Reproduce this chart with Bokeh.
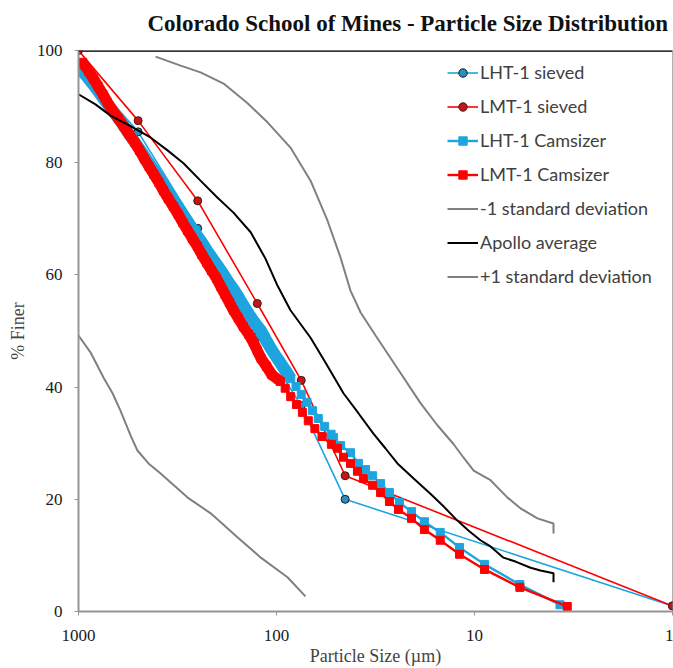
from bokeh.plotting import figure
from bokeh.models import Range1d, FixedTicker, NumeralTickFormatter, Legend, LegendItem, Span
from bokeh.embed import file_html
from bokeh.resources import INLINE

# ---------------- data ----------------
title_text = "Colorado School of Mines - Particle Size Distribution"
x_ticks = [1000, 100, 10, 1]
y_ticks = [0, 20, 40, 60, 80, 100]

sieve_size = [1000, 500, 250, 125, 75, 45, 1]
lht_sieved = [97.5, 85.5, 68.3, 49.0, 36.7, 20.0, 1.0]
lmt_sieved = [100, 87.5, 73.2, 54.9, 41.2, 24.2, 1.0]

lht_cam_size = [1000, 925, 860, 802, 748, 697, 651, 608, 570, 535,
                502, 471, 442, 415, 390, 368, 346, 325, 306, 288,
                270, 254, 238, 224, 210, 197, 185, 174, 163, 154,
                146, 137, 129, 120, 114, 108, 102, 95.8, 90.0, 84.7,
                79.7, 75.0, 70.2, 65.8, 61.5, 57.1, 53.0,
                51.5, 47.5, 42.3, 38.5, 35.5, 32.7, 29.8, 26.9, 23.9, 20.8,
                17.9, 14.9, 11.9, 8.9, 5.9, 3.7]
lht_cam_finer = [97.1, 95.7, 94.3, 92.9, 91.4, 90.0, 88.6, 87.2, 85.7, 84.3,
                 82.9, 81.5, 80.0, 78.6, 77.2, 75.8, 74.3, 72.9, 71.5, 70.1,
                 68.6, 67.2, 65.8, 64.3, 62.9, 61.5, 60.1, 58.6, 57.2, 55.8,
                 54.4, 52.9, 51.5, 50.1, 48.7, 47.2, 45.8, 44.4, 43.0, 41.5,
                 40.1, 38.7, 37.3, 35.8, 34.4, 33.0, 31.6,
                 31.0, 29.6, 28.3, 26.4, 25.3, 24.2, 22.8, 21.2, 19.4, 17.8,
                 16.0, 14.1, 11.4, 8.4, 4.8, 1.2]

lmt_cam_size = [954, 892, 841, 796, 753, 713, 673, 630, 591, 554,
                520, 492, 465, 440, 416, 393, 372, 352, 332, 314,
                297, 281, 266, 251, 238, 225, 213, 201, 191, 182,
                173, 165, 156, 147, 138, 131, 125, 119.5, 112.3, 105.6,
                95.5, 90.4, 84.8, 79.3, 74.0, 69.1, 64.0, 58.9, 52.8,
                49.2, 45.9, 42.3, 39.0, 36.4, 32.7, 29.8, 26.9, 24.2, 20.8,
                17.9, 14.9, 11.9, 8.9, 5.9, 3.4]
lmt_cam_finer = [97.9, 96.4, 95.0, 93.6, 92.2, 90.7, 89.3, 87.9, 86.5, 85.0,
                 83.6, 82.2, 80.7, 79.3, 77.9, 76.5, 75.0, 73.6, 72.2, 70.8,
                 69.3, 67.9, 66.5, 65.1, 63.6, 62.2, 60.8, 59.4, 57.9, 56.5,
                 55.1, 53.7, 52.3, 50.8, 49.4, 48.0, 46.5, 45.1, 43.7, 42.2,
                 41.0, 39.8, 38.3, 36.9, 35.5, 34.0, 32.6, 31.2, 29.8,
                 29.1, 27.5, 26.4, 25.0, 23.7, 22.5, 21.2, 19.6, 18.2, 16.6,
                 14.6, 12.7, 10.2, 7.5, 4.3, 0.9]

minus_size = [1000, 870, 748, 673, 614, 546, 504, 443, 385, 281, 215, 157, 120, 88.0, 71.4]
minus_finer = [49.2, 46.2, 41.7, 38.9, 35.8, 31.4, 28.7, 26.4, 24.6, 20.3, 17.5, 13.2, 9.6, 6.1, 2.7]

apollo_size = [1000, 821, 689, 546, 433, 355, 295, 242, 199, 165,
               135, 113.7, 98.9, 85.0, 67.3, 56.6, 45.9, 38.5, 32.4, 28.2,
               24.5, 20.3, 16.7, 14.3, 12.2, 10.7, 9.33, 8.30, 7.14, 6.21,
               5.21, 4.64, 3.99, 3.99]
apollo_finer = [92.2, 90.4, 88.4, 86.5, 84.5, 82.2, 79.9, 76.8, 73.8, 71.1,
                67.6, 62.9, 58.1, 53.7, 48.8, 44.4, 38.9, 35.3, 31.7, 29.1,
                26.4, 23.7, 21.0, 18.7, 16.2, 14.4, 12.7, 11.6, 9.6, 8.9,
                7.8, 7.3, 6.8, 5.2]

plus_size = [408, 305, 242, 185, 140, 111, 85.0, 67.3, 55.3, 47.5, 42.3, 37.6, 31.6,
             25.1, 18.7, 15.4, 12.8, 11.4, 10.1, 8.30, 6.81, 5.86, 4.81, 3.99, 3.99]
plus_finer = [98.9, 97.3, 96.1, 94.1, 90.6, 87.2, 82.7, 76.8, 69.7, 63.1, 57.2, 53.3, 49.2,
              43.9, 37.1, 33.2, 29.9, 27.5, 25.1, 23.4, 20.3, 18.4, 16.6, 15.7, 13.9]

# number of leading Camsizer points that merge into a solid band
LHT_DENSE = 40
LMT_DENSE = 41

# ---------------- styles ----------------
BLUE = "#1EA5E0"
RED = "#FF0000"
GRAY = "#808080"
SERIF = "Liberation Serif"

p = figure(width=673, height=676, x_axis_type="log",
           x_range=Range1d(1000, 1), y_range=Range1d(0, 100),
           output_backend="svg", toolbar_location=None,
           min_border_left=78, min_border_right=1, min_border_top=58, min_border_bottom=57)
p.margin = (-8, 0, 0, 0)

p.title.text = title_text
p.title.text_font = SERIF
p.title.text_font_size = "23px"
p.title.text_font_style = "bold"
p.title.text_color = "#111111"
p.title.align = "left"
p.title.offset = 69
p.title.standoff = 29

p.xgrid.visible = False
p.ygrid.visible = False
p.outline_line_color = "#b0b0b0"
p.outline_line_width = 1
p.background_fill_color = "white"
p.border_fill_color = "white"

for ax in (p.xaxis[0], p.yaxis[0]):
    ax.axis_line_color = "#959595"
    ax.axis_line_width = 2
    ax.major_tick_line_color = "#959595"
    ax.major_tick_line_width = 1
    ax.major_tick_in = 0
    ax.major_tick_out = 4
    ax.minor_tick_line_color = None
    ax.major_label_text_font = SERIF
    ax.major_label_text_font_size = "17px"
    ax.major_label_text_color = "#1a1a1a"
    ax.major_label_text_line_height = 0.8
    ax.axis_label_text_font = SERIF
    ax.axis_label_text_font_size = "18px"
    ax.axis_label_text_font_style = "normal"
    ax.axis_label_text_color = "#444444"
    ax.axis_label_text_line_height = 0.8

p.xaxis.ticker = FixedTicker(ticks=x_ticks)
p.xaxis.formatter = NumeralTickFormatter(format="0")
p.xaxis.major_label_standoff = 14
p.xaxis.axis_label = "Particle Size (µm)"
p.xaxis.axis_label_standoff = 2

p.yaxis.ticker = FixedTicker(ticks=y_ticks)
p.yaxis.major_label_standoff = 12
p.yaxis.axis_label = "% Finer"
p.yaxis.axis_label_standoff = 6

p.add_layout(Span(location=100, dimension="width", line_color="#333333", line_width=3))

# sieved series
r_lht_s_line = p.line(sieve_size, lht_sieved, line_color=BLUE, line_width=1.6)
r_lht_s_pts = p.scatter(sieve_size, lht_sieved, marker="circle", size=8,
                        fill_color="#2a8fc0", line_color="#1a1a1a", line_width=1)
r_lmt_s_line = p.line(sieve_size, lmt_sieved, line_color=RED, line_width=1.6)
r_lmt_s_pts = p.scatter(sieve_size, lmt_sieved, marker="circle", size=8,
                        fill_color="#c81414", line_color="#3a1a1a", line_width=1)

# camsizer series (dense leading part drawn as a solid band of markers)
p.line(lht_cam_size[:LHT_DENSE], lht_cam_finer[:LHT_DENSE], line_color=BLUE, line_width=12)
r_lht_c_line = p.line(lht_cam_size, lht_cam_finer, line_color=BLUE, line_width=2.4)
r_lht_c_pts = p.scatter(lht_cam_size, lht_cam_finer, marker="square", size=8,
                        fill_color=BLUE, line_color=BLUE)
p.line(lmt_cam_size[:LMT_DENSE], lmt_cam_finer[:LMT_DENSE], line_color=RED, line_width=11)
r_lmt_c_line = p.line(lmt_cam_size, lmt_cam_finer, line_color=RED, line_width=2.4)
r_lmt_c_pts = p.scatter(lmt_cam_size, lmt_cam_finer, marker="square", size=8,
                        fill_color=RED, line_color=RED)

# Apollo envelope
r_minus = p.line(minus_size, minus_finer, line_color=GRAY, line_width=2)
r_apollo = p.line(apollo_size, apollo_finer, line_color="#000000", line_width=2)
r_plus = p.line(plus_size, plus_finer, line_color=GRAY, line_width=2)

legend = Legend(items=[
    LegendItem(label="LHT-1 sieved", renderers=[r_lht_s_line, r_lht_s_pts]),
    LegendItem(label="LMT-1 sieved", renderers=[r_lmt_s_line, r_lmt_s_pts]),
    LegendItem(label="LHT-1 Camsizer", renderers=[r_lht_c_line, r_lht_c_pts]),
    LegendItem(label="LMT-1 Camsizer", renderers=[r_lmt_c_line, r_lmt_c_pts]),
    LegendItem(label="-1 standard deviation", renderers=[r_minus]),
    LegendItem(label="Apollo average", renderers=[r_apollo]),
    LegendItem(label="+1 standard deviation", renderers=[r_plus]),
], location=(369, 324))
legend.border_line_alpha = 0
legend.background_fill_alpha = 0
legend.padding = 0
legend.margin = 0
legend.spacing = 12
legend.glyph_width = 31
legend.glyph_height = 21
legend.label_height = 21
legend.label_standoff = 2
legend.label_text_font = "Lato"
legend.label_text_font_size = "18px"
legend.label_text_color = "#404040"
p.add_layout(legend)

open("out.html", "w").write(file_html(p, INLINE))
